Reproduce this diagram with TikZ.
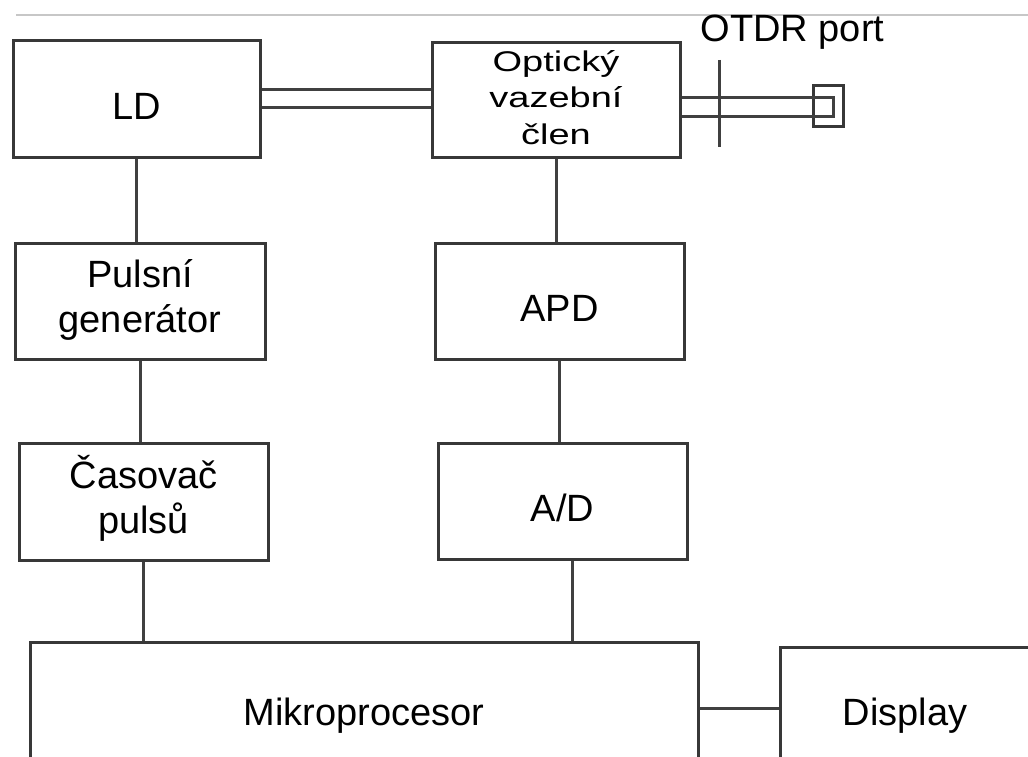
\documentclass[tikz,border=0pt]{standalone}
\usepackage{fontspec}
\setmainfont{Liberation Sans}
\usepackage{graphicx}
\begin{document}
\begin{tikzpicture}[x=1pt,y=-1pt,
  box/.style={draw=black!78, line width=3pt, fill=white, inner sep=0pt, align=center, font=\fontsize{38}{45}\selectfont},
  one/.style={text height=40pt, text depth=0pt},
  wire/.style={draw=black!75, line width=3pt}]
\clip (0,0) rectangle (1028,757);
\useasboundingbox (0,0) rectangle (1028,757);
\fill[white] (0,0) rectangle (1028,757);
\draw[black!22, line width=2.5pt] (16,15) -- (1028,15);

\node[box,one,minimum width=247pt,minimum height=117pt] (LD) at (136.5,99.5) {LD};
\node[box,minimum width=248pt,minimum height=115pt] (opt) at (556,100.5)
  {\scalebox{1}[0.75]{\fontsize{38}{49}\selectfont\begin{tabular}{@{}c@{}}Optický\\vazební\\člen\end{tabular}}};
\node[box,minimum width=250pt,minimum height=116pt] (pul) at (140,301) {\raisebox{-3pt}{\begin{tabular}{@{}c@{}}Pulsní\\generátor\end{tabular}}};
\node[box,one,minimum width=249pt,minimum height=116pt] (apd) at (559.5,301) {APD};
\node[box,minimum width=249pt,minimum height=117pt] (cas) at (143.5,501.5) {\raisebox{-3pt}{\begin{tabular}{@{}c@{}}Časovač\\pulsů\end{tabular}}};
\node[box,one,minimum width=249pt,minimum height=116pt] (ad) at (562.5,501) {A/D};
\node[box,one,minimum width=668pt,minimum height=126pt] (mikro) at (364,705) {Mikroprocesor};
\node[box,one,minimum width=250pt,minimum height=116pt] (disp) at (905,705) {Display};

\draw[wire] (LD.south) -- (LD.south |- pul.north);
\draw[wire] (pul.south) -- (pul.south |- cas.north);
\draw[wire] (cas.south) -- (cas.south |- mikro.north);
\draw[wire] (opt.south) -- (opt.south |- apd.north);
\draw[wire] (apd.south) -- (apd.south |- ad.north);
\draw[wire] ([xshift=10pt]ad.south) -- ([xshift=10pt]ad.south |- mikro.north);
\draw[wire] ([yshift=-3pt]mikro.east) -- ([yshift=-3pt]mikro.east -| disp.west);

\draw[wire] ([yshift=10pt]LD.east) -- ([yshift=10pt]LD.east -| opt.west);
\draw[wire] ([yshift=-8pt]LD.east) -- ([yshift=-8pt]LD.east -| opt.west);

\node[draw=black!78, line width=3pt, minimum width=30pt, minimum height=41pt, inner sep=0pt] (port) at (828,106.5) {};
\coordinate (fe) at (833,0);
\draw[wire] ([yshift=2.5pt]opt.east) -| ([yshift=-16.5pt]opt.east -| fe) -- ([yshift=-16.5pt]opt.east);
\coordinate (tt) at (719,60);
\coordinate (tb) at (719,147);
\draw[wire] (tt) -- (tb);

\node[font=\fontsize{38}{45}\selectfont, anchor=base, inner sep=0pt] (otdr) at (792.5,42) {OTDR port};
\end{tikzpicture}
\end{document}
